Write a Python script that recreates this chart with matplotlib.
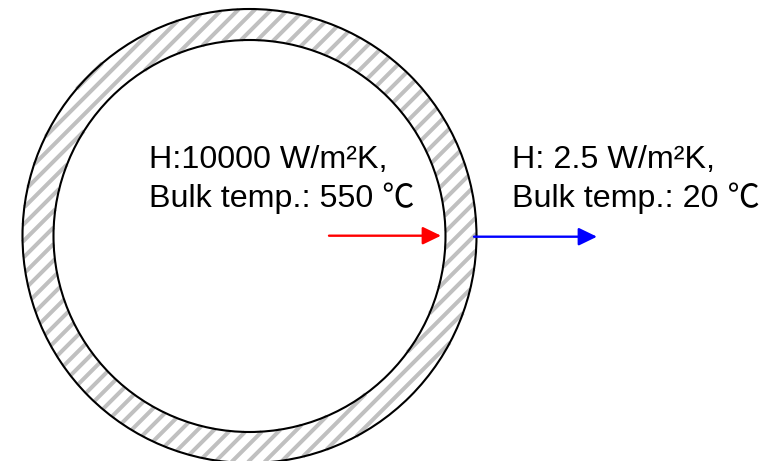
import numpy as np
import matplotlib
matplotlib.use("Agg")
from matplotlib import pyplot as plt
from matplotlib.collections import LineCollection
from matplotlib.patches import Circle

plt.rcParams['font.family'] = ['Liberation Sans', 'Noto Sans CJK SC', 'DejaVu Sans']

# pipe geometry, in picture pixels
cx, cy = 249.5, 236
r_outer = 227
r_inner = 196

inner_labels = ["H:10000 W/m²K,", "Bulk temp.: 550 ℃"]
outer_labels = ["H: 2.5 W/m²K,", "Bulk temp.: 20 ℃"]
label_baselines = [168, 207]

# flow arrows: start x, end x, y, colour
arrow_red = (329, 441, 235.7, "#ff0000")
arrow_blue = (474, 597, 236.7, "#0000ff")

fig = plt.figure(figsize=(7.7, 4.61), dpi=100)
ax = fig.add_axes([0, 0, 1, 1])
ax.set_xlim(0, 770)
ax.set_ylim(461, 0)
ax.axis("off")

# 45 degree stripes, cut by hand to the wall of the pipe
s = np.sqrt(0.5)
segs = []
for c in np.arange(0.5, 1000, 16.5):
    d = (c - cx - cy) * s  # distance of the stripe from the centre
    if abs(d) >= r_outer:
        continue
    fx, fy = cx + d * s, cy + d * s
    t_out = np.sqrt(r_outer ** 2 - d ** 2)
    if abs(d) >= r_inner:
        ranges = [(-t_out, t_out)]
    else:
        t_in = np.sqrt(r_inner ** 2 - d ** 2)
        ranges = [(-t_out, -t_in), (t_in, t_out)]
    for t0, t1 in ranges:
        segs.append([(fx + t0 * s, fy - t0 * s), (fx + t1 * s, fy - t1 * s)])

stripes = LineCollection(segs, colors="#c0c0c0", linewidths=2.9, zorder=2)
ax.add_collection(stripes)

ax.add_patch(Circle((cx, cy), r_outer, fill=False, edgecolor="black", linewidth=1.5, zorder=3))
ax.add_patch(Circle((cx, cy), r_inner, fill=False, edgecolor="black", linewidth=1.5, zorder=3))

for label, y in zip(inner_labels, label_baselines):
    ax.text(149, y, label, fontsize=23.2, va="baseline", ha="left", color="black")
for label, y in zip(outer_labels, label_baselines):
    ax.text(512, y, label, fontsize=23.2, va="baseline", ha="left", color="black")

for x0, x1, y, col in [arrow_red, arrow_blue]:
    ax.annotate("", xy=(x1, y), xytext=(x0, y),
                arrowprops=dict(arrowstyle="-|>,head_length=0.62,head_width=0.3",
                                color=col, lw=1.7, shrinkA=0, shrinkB=0,
                                mutation_scale=18))

fig.savefig("out.png", dpi=100)
